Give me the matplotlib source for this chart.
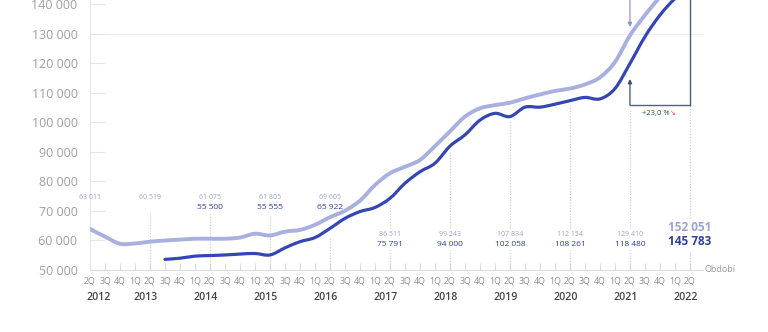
import matplotlib
matplotlib.use("Agg")
import matplotlib.pyplot as plt
from matplotlib.path import Path
from matplotlib.patches import PathPatch
from matplotlib.ticker import FuncFormatter

plt.rcParams['font.family'] = ['Open Sans', 'DejaVu Sans']

# quarters from 2Q 2012 to 2Q 2022
quarters = ['2Q', '3Q', '4Q', '1Q'] * 10 + ['2Q']
years = [2012, 2013, 2014, 2015, 2016, 2017, 2018, 2019, 2020, 2021, 2022]

# light series (whole period)
light = [63900, 61300, 58900, 59000, 59600, 60000, 60300, 60600, 60600, 60600,
         61000, 62300, 61700, 63000, 63600, 65300, 67900, 70100, 73500, 78800,
         82800, 85000, 87300, 92000, 97000, 102000, 104800, 105900, 106700, 108200,
         109500, 110700, 111500, 112900, 115300, 120500, 129500, 136400, 142500, 147500,
         152051]
# dark series, starts at 3Q 2013
dark_start = 5
dark = [53600, 54000, 54700, 54900, 55100, 55400, 55600, 55100, 57500, 59600,
        61000, 64100, 67500, 69800, 71200, 74300, 79400, 83300, 86200, 92000,
        95800, 100800, 103100, 102000, 105200, 105200, 106200, 107400, 108500, 108000,
        111500, 120000, 129100, 136400, 142000, 145783]

light_labels = ['63 011', '60 519', '61 075', '61 805', '69 605', '86 511', '99 243',
                '107 834', '112 154', '129 410', '152 051']
dark_labels = ['', '', '55 500', '55 555', '65 922', '75 791', '94 000',
               '102 058', '108 261', '118 480', '145 783']
change_text = '+23,0 %'

LIGHT = '#a8b0e0'
DARK = '#3446b4'
LIGHT_TXT = '#9aa3d6'
DARK_TXT = '#2e3f9e'
DOT = '#c9c9c9'
BRACKET = '#50607e'


def smooth_path(x, y):
    # Catmull-Rom through the points, drawn as cubic Bezier pieces
    pts = list(zip(x, y))
    verts = [pts[0]]
    codes = [Path.MOVETO]
    for i in range(len(pts) - 1):
        p0 = pts[i - 1] if i > 0 else pts[i]
        p1, p2 = pts[i], pts[i + 1]
        p3 = pts[i + 2] if i + 2 < len(pts) else pts[i + 1]
        c1 = (p1[0] + (p2[0] - p0[0]) / 6, p1[1] + (p2[1] - p0[1]) / 6)
        c2 = (p2[0] - (p3[0] - p1[0]) / 6, p2[1] - (p3[1] - p1[1]) / 6)
        verts += [c1, c2, p2]
        codes += [Path.CURVE4] * 3
    return Path(verts, codes)


fig = plt.figure(figsize=(7.68, 3.32), dpi=100)
ax = fig.add_axes([90 / 768, 62 / 332, 613 / 768, 270 / 332])

ymin, ymax = 50000, 141525
ax.set_ylim(ymin, ymax)
ax.set_xlim(0, 40.87)


def frac_to_val(f):
    return ymin + f * (ymax - ymin)


xs = list(range(len(light)))
ax.add_patch(PathPatch(smooth_path(xs, light), fill=False, edgecolor=LIGHT, lw=2.8,
                       capstyle='round', joinstyle='round', zorder=3))
ax.add_patch(PathPatch(smooth_path(range(dark_start, dark_start + len(dark)), dark),
                       fill=False, edgecolor=DARK, lw=2.3, capstyle='round',
                       joinstyle='round', zorder=4))

# axes styling
for s in ['top', 'right']:
    ax.spines[s].set_visible(False)
ax.spines['left'].set_color('#e6e6e6')
ax.spines['bottom'].set_color('#dcdcdc')
ax.set_yticks(range(50000, 140001, 10000))
ax.yaxis.set_major_formatter(FuncFormatter(lambda v, p: f"{int(v):,}".replace(',', ' ')))
ax.tick_params(axis='y', direction='in', length=10.8, color='#e6e6e6', labelsize=9,
               labelcolor='#a0a0a0', pad=9)
ax.set_xticks(xs)
ax.set_xticklabels(quarters)
ax.tick_params(axis='x', direction='in', length=5, color='#dcdcdc', labelsize=6.4,
               labelcolor='#8e8e8e', pad=5)
ax.axhline(130000, color='#efefef', lw=0.8, zorder=1)

trans = ax.get_xaxis_transform()
for k, y in enumerate(years):
    xq = 4 * k
    xl = 0.55 if k == 0 else xq - 0.3
    ax.text(xl, -0.1, str(y), transform=trans, ha='center', va='center',
            fontsize=7.6, color='#444444', fontweight='semibold')

ax.text(40.95, 0.0, 'Období', transform=trans, ha='left', va='center',
        fontsize=6.5, color='#9a9a9a')

# value labels
for k in range(len(years)):
    xq = 4 * k
    if k <= 4:
        fl, fd, fs1, fs2, fw = 0.267, 0.230, 5, 6, 'normal'
    elif k < 10:
        fl, fd, fs1, fs2, fw = 0.133, 0.096, 5, 6, 'normal'
    else:
        fl, fd, fs1, fs2, fw = 0.156, 0.104, 8.5, 8.5, 'bold'
    ax.text(xq, fl, light_labels[k], transform=trans, ha='center', va='center',
            fontsize=fs1, color=LIGHT_TXT, fontweight=fw)
    if dark_labels[k]:
        ax.text(xq, fd, dark_labels[k], transform=trans, ha='center', va='center',
                fontsize=fs2, color=DARK_TXT, fontweight=fw)

# dotted guide lines
dot_kw = dict(color=DOT, lw=0.8, linestyles=(0, (1, 1.5)), zorder=2)
for k, top in [(1, 0.211), (2, 0.211), (3, 0.204), (4, 0.118)]:
    ax.vlines(4 * k, 0, top, transform=trans, **dot_kw)
for k in range(5, 10):
    xq = 4 * k
    ax.vlines(xq, 0, 0.074, transform=trans, **dot_kw)
    top = dark[xq - dark_start]
    if k == 9:
        top = frac_to_val((270 - 105) / 270)
    ax.vlines(xq, frac_to_val(0.156), top - 1500, **dot_kw)
ax.vlines(40, 0, 0.07, transform=trans, **dot_kw)
ax.vlines(40, frac_to_val(0.193), frac_to_val((270 - 105) / 270), **dot_kw)

# bracket showing the change
yb = frac_to_val((270 - 105) / 270)
ax.plot([36, 40], [yb, yb], color=BRACKET, lw=1.0, zorder=5)
ax.plot([40, 40], [yb, ymax], color=BRACKET, lw=1.0, zorder=5, clip_on=False)
ax.annotate('', xy=(36, frac_to_val((270 - 79) / 270)), xytext=(36, yb),
            arrowprops=dict(arrowstyle='-|>', color='#3e4a80', lw=0.9, mutation_scale=6,
                            shrinkA=0, shrinkB=0), zorder=5)
ax.annotate('', xy=(36, frac_to_val((270 - 27) / 270)), xytext=(36, ymax),
            arrowprops=dict(arrowstyle='-|>', color='#8d96c6', lw=0.9, mutation_scale=6,
                            shrinkA=0, shrinkB=0), zorder=5)
ax.text(37.7, (270 - 113) / 270, change_text, transform=trans, ha='center', va='center',
        fontsize=5.5, color='#2f4f3c')
ax.text(38.85, (270 - 113) / 270, '↘', transform=trans, ha='center', va='center',
        fontsize=5, color='#e05a5a', family=['DejaVu Sans'])

fig.savefig('out.png', dpi=100)
